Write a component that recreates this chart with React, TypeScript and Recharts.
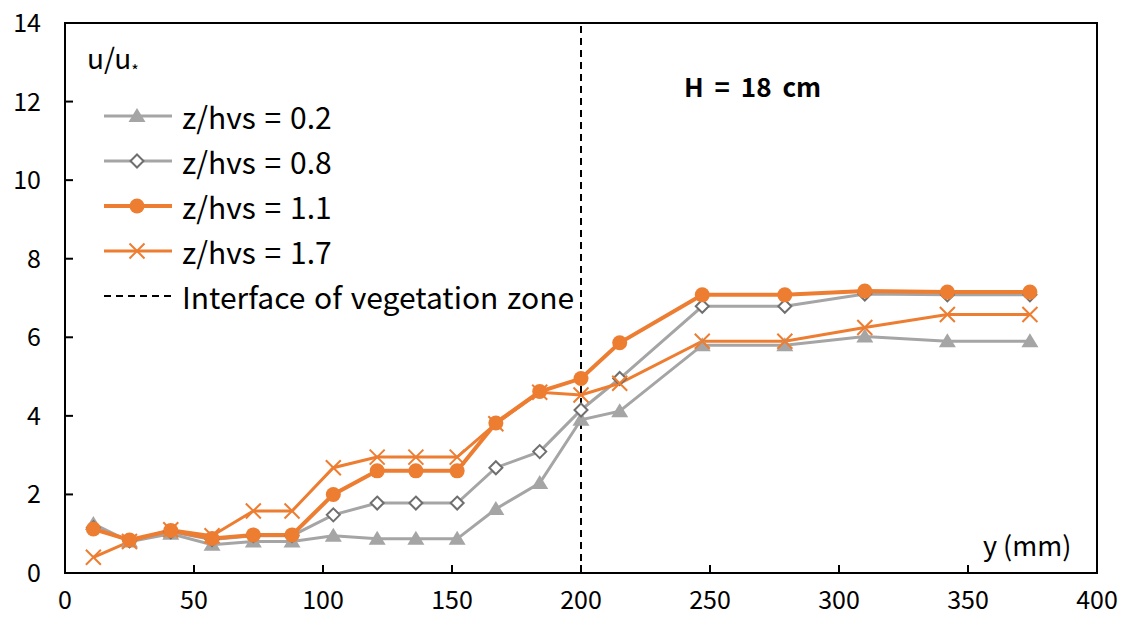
import React from 'react';
import {
  LineChart, Line, XAxis, YAxis, ReferenceLine, ReferenceArea,
} from 'recharts';

// lateral position y (mm)
const positions = [11, 25, 41, 57, 73, 88, 104, 121, 136, 152, 167, 184, 200, 215, 247, 279, 310, 342, 374];

// u/u* for each relative height
const z02 = [1.25, 0.8, 1.0, 0.72, 0.8, 0.8, 0.95, 0.87, 0.87, 0.87, 1.63, 2.29, 3.9, 4.12, 5.8, 5.8, 6.02, 5.9, 5.9];
const z08 = [1.15, 0.82, 1.05, 0.85, 0.95, 0.95, 1.48, 1.78, 1.78, 1.78, 2.68, 3.09, 4.15, 4.95, 6.79, 6.79, 7.1, 7.08, 7.08];
const z11 = [1.12, 0.84, 1.08, 0.88, 0.97, 0.97, 2.0, 2.6, 2.6, 2.6, 3.82, 4.62, 4.95, 5.86, 7.08, 7.08, 7.18, 7.15, 7.15];
const z17 = [0.4, 0.8, 1.1, 0.95, 1.58, 1.58, 2.68, 2.95, 2.95, 2.95, 3.8, 4.6, 4.53, 4.83, 5.9, 5.9, 6.25, 6.58, 6.58];

const xTicks = [0, 50, 100, 150, 200, 250, 300, 350, 400];
const yTicks = [0, 2, 4, 6, 8, 10, 12, 14];
const interfaceY = 200;

const legendLabels = ['z/hvs = 0.2', 'z/hvs = 0.8', 'z/hvs = 1.1', 'z/hvs = 1.7'];

const GREY = '#A5A5A5';
const ORANGE = '#ED7D31';
const FONT = '"Noto Sans CJK SC", "Noto Sans", sans-serif';

const W = 1126;
const H = 617;
const M = { top: 23, right: 29, left: 0, bottom: 0 };
const Y_AXIS_W = 65;
const X_AXIS_H = 44;
const PLOT_LEFT = M.left + Y_AXIS_W;
const PLOT_BOTTOM = H - M.bottom - X_AXIS_H;

const data = positions.map((y, i) => ({
  y, z02: z02[i], z08: z08[i], z11: z11[i], z17: z17[i],
}));

const Triangle = ({ cx, cy }: any) => (
  <polygon points={`${cx},${cy - 8} ${cx - 8.5},${cy + 6} ${cx + 8.5},${cy + 6}`} fill={GREY} />
);
const Diamond = ({ cx, cy }: any) => (
  <polygon points={`${cx},${cy - 6.5} ${cx + 6.5},${cy} ${cx},${cy + 6.5} ${cx - 6.5},${cy}`}
    fill="#fff" stroke="#6f6f6f" strokeWidth={2} />
);
const Dot = ({ cx, cy }: any) => <circle cx={cx} cy={cy} r={7.5} fill={ORANGE} />;
const Cross = ({ cx, cy }: any) => (
  <path d={`M${cx - 7.5},${cy - 7.5}L${cx + 7.5},${cy + 7.5}M${cx - 7.5},${cy + 7.5}L${cx + 7.5},${cy - 7.5}`}
    stroke={ORANGE} strokeWidth={2} />
);

const markers = [Triangle, Diamond, Dot, Cross];
const lineColors = [GREY, GREY, ORANGE, ORANGE];
const lineWidths = [3, 3, 4, 3];

const YTick = ({ y, payload }: any) => (
  <g>
    <line x1={PLOT_LEFT} x2={PLOT_LEFT + 8} y1={y} y2={y} stroke="#000" strokeWidth={2} />
    <text x={PLOT_LEFT - 24} y={y} dy={9} textAnchor="end" fontSize={25} fontFamily={FONT} fill="#000">
      {payload.value}
    </text>
  </g>
);

const XTick = ({ x, payload }: any) => (
  <g>
    <line x1={x} x2={x} y1={PLOT_BOTTOM} y2={PLOT_BOTTOM - 8} stroke="#000" strokeWidth={2} />
    <text x={x} y={PLOT_BOTTOM + 36} textAnchor="middle" fontSize={25} fontFamily={FONT} fill="#000">
      {payload.value}
    </text>
  </g>
);

function LegendSample({ i }: { i: number }) {
  const Marker = markers[i];
  return (
    <svg width={68} height={20} style={{ display: 'block' }}>
      <line x1={0} x2={68} y1={10} y2={10} stroke={lineColors[i]} strokeWidth={lineWidths[i]} />
      <Marker cx={33} cy={10} />
    </svg>
  );
}

export default function App() {
  const text: React.CSSProperties = { position: 'absolute', fontFamily: FONT, color: '#000', whiteSpace: 'nowrap', lineHeight: 1 };
  const legendText: React.CSSProperties = { fontFamily: FONT, fontSize: 30, marginLeft: 10, lineHeight: 1, wordSpacing: 2 };
  return (
    <div style={{ position: 'absolute', left: 0, top: 0, width: W, height: H, background: '#fff' }}>
      <LineChart width={W} height={H} data={data} margin={M}>
        <XAxis dataKey="y" type="number" domain={[0, 400]} ticks={xTicks} height={X_AXIS_H}
          axisLine={{ stroke: '#000', strokeWidth: 2 }} tickLine={false} tick={<XTick />} />
        <YAxis type="number" domain={[0, 14]} ticks={yTicks} width={Y_AXIS_W}
          axisLine={{ stroke: '#000', strokeWidth: 2 }} tickLine={false} tick={<YTick />} />
        <ReferenceArea x1={0} x2={400} y1={0} y2={14} fill="none" stroke="#000" strokeWidth={2} />
        <ReferenceLine x={interfaceY} stroke="#000" strokeWidth={2} strokeDasharray="7 5" />
        {(['z02', 'z08', 'z11', 'z17'] as const).map((k, i) => {
          const Marker = markers[i];
          return (
            <Line key={k} dataKey={k} stroke={lineColors[i]} strokeWidth={lineWidths[i]}
              isAnimationActive={false}
              dot={(p: any) => <Marker key={`${k}-${p.index}`} cx={p.cx} cy={p.cy} />} />
          );
        })}
      </LineChart>

      <div style={{ ...text, left: 87, top: 43, fontSize: 28 }}>
        u/u<span style={{ fontSize: 16, position: 'relative', top: 8 }}>*</span>
      </div>
      <div style={{ ...text, left: 684, top: 73, fontSize: 26, fontWeight: 700, wordSpacing: 5 }}>H = 18 cm</div>
      <div style={{ ...text, left: 983, top: 531, fontSize: 27 }}>y (mm)</div>

      <div style={{ position: 'absolute', left: 104, top: 93 }}>
        {legendLabels.map((l, i) => (
          <div key={l} style={{ display: 'flex', alignItems: 'center', height: 45 }}>
            <LegendSample i={i} />
            <span style={legendText}>{l}</span>
          </div>
        ))}
        <div style={{ display: 'flex', alignItems: 'center', height: 45 }}>
          <svg width={68} height={20} style={{ display: 'block' }}>
            <line x1={0} x2={68} y1={10} y2={10} stroke="#000" strokeWidth={2} strokeDasharray="7 5" />
          </svg>
          <span style={legendText}>Interface of vegetation zone</span>
        </div>
      </div>
    </div>
  );
}
